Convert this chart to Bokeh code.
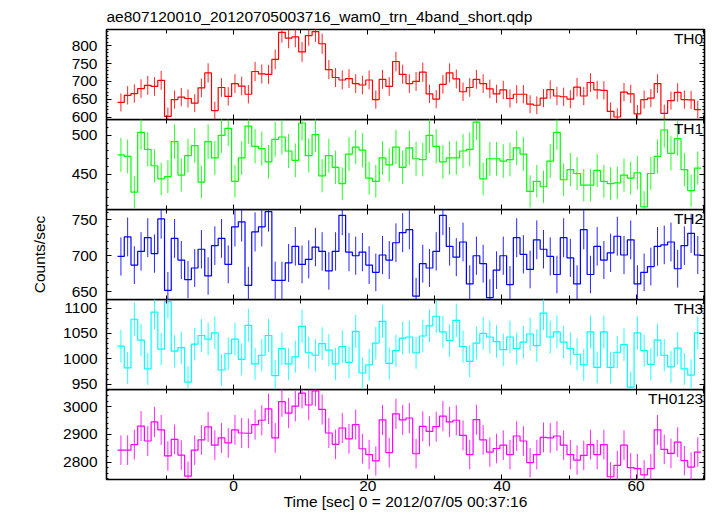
import numpy as np
from bokeh.plotting import figure
from bokeh.layouts import column
from bokeh.models import (Range1d, LinearAxis, SingleIntervalTicker, Label, Title,
                          CustomJSTickFormatter)
from bokeh.embed import file_html
from bokeh.resources import INLINE

TITLE = "ae807120010_20120705003716_wam0_trn_4band_short.qdp"
X_LABEL = "Time [sec] 0 = 2012/07/05 00:37:16"
Y_LABEL = "Counts/sec"
T_START = -16.8   # centre of first 1-s bin
T_BIN = 1.0

TH0 = [641, 661, 666, 680, 689, 686, 703, 602, 649, 656, 652, 639, 682, 724, 618, 683, 658, 694, 687, 664,
       728, 721, 720, 762, 838, 822, 825, 783, 829, 840, 806, 733, 711, 704, 708, 694, 690, 704, 649, 706,
       686, 756, 720, 694, 700, 726, 665, 650, 692, 724, 707, 671, 683, 706, 694, 679, 665, 676, 652, 664,
       664, 636, 633, 653, 677, 659, 657, 650, 684, 659, 697, 676, 675, 616, 600, 670, 665, 609, 649, 653,
       694, 610, 646, 669, 649, 648, 621]
TH1 = [475, 473, 427, 504, 482, 461, 444, 447, 492, 449, 474, 487, 440, 492, 471, 500, 509, 441, 471, 512,
       486, 483, 466, 495, 498, 480, 468, 516, 474, 501, 448, 474, 459, 438, 476, 485, 481, 445, 441, 471,
       462, 485, 459, 484, 470, 469, 500, 486, 466, 471, 471, 480, 482, 517, 444, 470, 470, 467, 469, 484,
       476, 428, 441, 434, 467, 504, 443, 456, 451, 436, 436, 455, 441, 438, 439, 449, 445, 452, 408, 451,
       473, 507, 477, 496, 456, 429, 458]
TH2 = [699, 726, 687, 706, 725, 703, 751, 652, 724, 694, 667, 683, 709, 672, 714, 724, 688, 740, 747, 659,
       733, 740, 761, 666, 666, 690, 713, 688, 695, 712, 706, 679, 706, 756, 705, 700, 705, 687, 677, 701,
       694, 718, 732, 736, 644, 689, 683, 706, 756, 713, 698, 719, 661, 700, 689, 642, 680, 700, 660, 725,
       702, 681, 722, 709, 699, 674, 725, 697, 661, 736, 674, 713, 694, 704, 727, 701, 722, 661, 677, 685,
       713, 715, 719, 682, 714, 731, 701]
TH3 = [1025, 982, 1078, 1037, 980, 1092, 1019, 1113, 1015, 1022, 954, 1029, 1046, 1039, 1051, 978, 1010, 1039, 999, 1066,
       990, 1007, 1046, 967, 1020, 990, 1004, 1064, 1012, 1007, 1030, 1017, 990, 1024, 993, 1054, 972, 988, 1031, 1074,
       991, 1016, 1041, 1043, 1012, 1045, 1065, 1084, 1053, 1036, 1076, 1024, 995, 1031, 1050, 1043, 1034, 1018, 1043, 1020,
       1033, 1049, 1026, 1090, 1043, 1053, 1033, 1020, 1009, 988, 1053, 983, 1053, 983, 1013, 1028, 944, 1051, 1016, 989,
       1037, 1007, 984, 1021, 980, 968, 1051]
TH0123 = [2843, 2843, 2863, 2930, 2876, 2945, 2916, 2822, 2882, 2825, 2749, 2843, 2880, 2927, 2861, 2887, 2869, 2916, 2905, 2904,
          2935, 2951, 2992, 2887, 3018, 2977, 3002, 3049, 3006, 3057, 2990, 2905, 2864, 2923, 2884, 2935, 2848, 2827, 2804, 2952,
          2834, 2974, 2952, 2959, 2830, 2929, 2911, 2928, 2966, 2945, 2951, 2896, 2827, 2953, 2880, 2836, 2849, 2861, 2827, 2894,
          2876, 2798, 2827, 2889, 2887, 2894, 2861, 2827, 2807, 2824, 2863, 2827, 2863, 2747, 2788, 2861, 2780, 2776, 2754, 2776,
          2916, 2846, 2831, 2872, 2805, 2782, 2836]

PANEL_NAMES = ["TH0", "TH1", "TH2", "TH3", "TH0123"]
PANEL_DATA = [TH0, TH1, TH2, TH3, TH0123]
PANEL_COLORS = ["#ff0000", "#00ff00", "#0000ff", "#00ffff", "#ff00ff"]
PANEL_YRANGE = [(593, 846), (404.7, 520.5), (639.4, 764), (939.5, 1117), (2737, 3062)]
PANEL_YTICK = [50, 50, 50, 50, 100]
X_RANGE = (-18.95, 70.2)

FONT = "Liberation Sans"
FS = "15.5px"
OVERLAP = 12

def style_axis(ax, labels):
    ax.axis_line_color = None
    ax.major_tick_line_color = "black"
    ax.minor_tick_line_color = "black"
    ax.major_tick_out = 0
    ax.minor_tick_out = 0
    ax.major_label_text_font = FONT
    ax.major_label_text_color = "black"
    ax.axis_label_text_font = FONT
    ax.axis_label_text_font_size = FS
    ax.axis_label_text_font_style = "normal"
    ax.axis_label_text_color = "black"
    if labels:
        ax.major_label_text_font_size = FS
    else:
        ax.formatter = CustomJSTickFormatter(code="return ''")
        ax.major_label_text_font_size = "0px"
        ax.major_label_standoff = 0

xr = Range1d(*X_RANGE)
figs = []
n_pan = len(PANEL_NAMES)
for k in range(n_pan):
    first = k == 0
    last = k == n_pan - 1
    vals = np.array(PANEL_DATA[k], dtype=float)
    t = T_START + T_BIN * np.arange(len(vals))
    err = np.sqrt(vals * T_BIN) / T_BIN   # Poisson error of the 1-s rate
    y0, y1 = PANEL_YRANGE[k]

    p = figure(frame_width=598, frame_height=90, x_range=xr, y_range=Range1d(y0, y1),
               output_backend="svg", toolbar_location=None,
               x_axis_location=None, y_axis_location=None,
               min_border_left=106, min_border_right=8,
               min_border_top=26 if first else 0,
               min_border_bottom=0 if last else OVERLAP,
               margin=(0, 0, 0 if last else -OVERLAP, 0))
    p.grid.visible = False
    p.outline_line_color = "black"
    p.outline_line_width = 1.6
    p.background_fill_alpha = 0
    p.border_fill_alpha = 0

    xt = SingleIntervalTicker(interval=20, num_minor_ticks=2)
    yt = SingleIntervalTicker(interval=PANEL_YTICK[k], num_minor_ticks=5)
    bottom = LinearAxis(ticker=xt)
    top = LinearAxis(ticker=xt)
    left = LinearAxis(ticker=yt)
    right = LinearAxis(ticker=yt)
    for ax in [bottom, top]:
        ax.major_tick_in = 5
        ax.minor_tick_in = 4
    for ax in [left, right]:
        ax.major_tick_in = 5
        ax.minor_tick_in = 2
    style_axis(bottom, last)
    style_axis(top, False)
    style_axis(left, True)
    style_axis(right, False)
    left.major_label_standoff = 9
    if last:
        bottom.major_label_standoff = 1
        bottom.axis_label = X_LABEL
        bottom.axis_label_standoff = -1
    if k == 2:
        left.axis_label = Y_LABEL
        left.axis_label_standoff = 21
    p.add_layout(bottom, "below")
    p.add_layout(top, "above")
    p.add_layout(left, "left")
    p.add_layout(right, "right")

    if first:
        p.add_layout(Title(text=TITLE, align="left", text_font=FONT, text_font_size=FS,
                           text_font_style="normal", text_color="black", standoff=10), "above")

    edges = t - 0.5 * T_BIN
    xs = np.append(edges, edges[-1] + T_BIN)
    ys = np.append(vals, vals[-1])
    c = PANEL_COLORS[k]
    p.segment(x0=t, y0=vals - err, x1=t, y1=vals + err, line_color=c, line_width=1, line_alpha=0.85)
    p.step(x=xs, y=ys, mode="after", line_color=c, line_width=1.2)

    unit = (y1 - y0) / 90.0
    p.add_layout(Label(x=X_RANGE[1] - 0.2, y=y1 - 0.8 * unit, text=PANEL_NAMES[k],
                       text_align="right", text_baseline="top", text_font=FONT,
                       text_font_size=FS, text_color="black"))
    figs.append(p)

layout = column(*figs, spacing=0)
open("out.html", "w").write(file_html(layout, INLINE))
